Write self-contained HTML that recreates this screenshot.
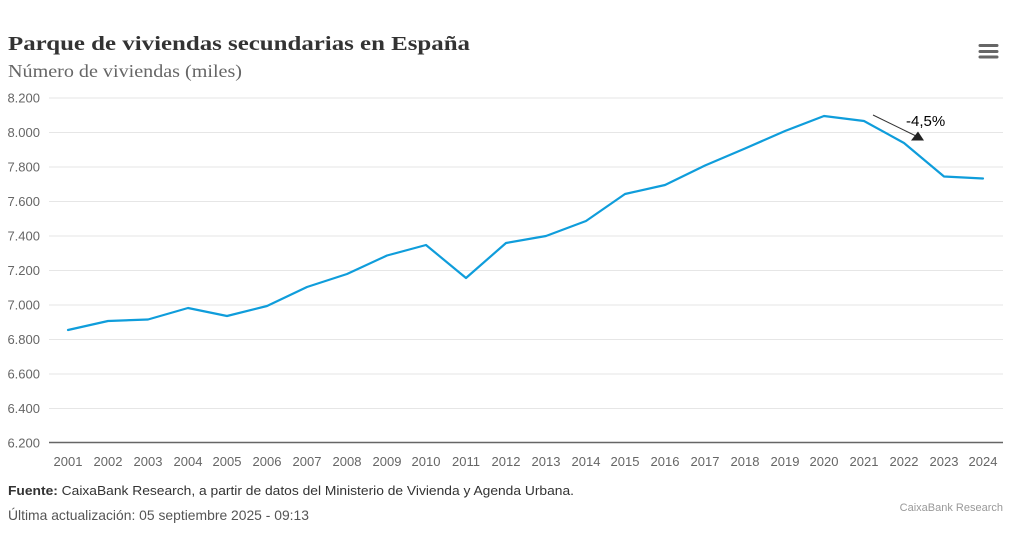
<!DOCTYPE html>
<html>
<head>
<meta charset="utf-8">
<style>
  html,body{margin:0;padding:0;background:#fff;}
  body{width:1024px;height:534px;overflow:hidden;}
  svg{display:block;}
</style>
</head>
<body>
<svg width="1024" height="534" viewBox="0 0 1024 534" xmlns="http://www.w3.org/2000/svg">
  <rect width="1024" height="534" fill="#fff"/>
  <!-- Title -->
  <text x="8" y="50" font-family="Liberation Serif, serif" font-weight="bold" font-size="20" fill="#333" textLength="462" lengthAdjust="spacingAndGlyphs">Parque de viviendas secundarias en España</text>
  <text x="8" y="77" font-family="Liberation Serif, serif" font-size="18" fill="#666" textLength="234" lengthAdjust="spacingAndGlyphs">Número de viviendas (miles)</text>

  <!-- Hamburger -->
  <g stroke="#666" stroke-width="3" stroke-linecap="round">
    <line x1="980" y1="45.5" x2="997" y2="45.5"/>
    <line x1="980" y1="51.5" x2="997" y2="51.5"/>
    <line x1="980" y1="57" x2="997" y2="57"/>
  </g>

  <!-- Gridlines -->
  <g stroke="#e6e6e6" stroke-width="1">
    <line x1="49" y1="98" x2="1003" y2="98"/>
    <line x1="49" y1="132.5" x2="1003" y2="132.5"/>
    <line x1="49" y1="167" x2="1003" y2="167"/>
    <line x1="49" y1="201.5" x2="1003" y2="201.5"/>
    <line x1="49" y1="236" x2="1003" y2="236"/>
    <line x1="49" y1="270.5" x2="1003" y2="270.5"/>
    <line x1="49" y1="305" x2="1003" y2="305"/>
    <line x1="49" y1="339.5" x2="1003" y2="339.5"/>
    <line x1="49" y1="374" x2="1003" y2="374"/>
    <line x1="49" y1="408.5" x2="1003" y2="408.5"/>
  </g>
  <line x1="49" y1="442.5" x2="1003" y2="442.5" stroke="#666" stroke-width="1.5"/>

  <!-- Y labels -->
  <g font-family="Liberation Sans, sans-serif" font-size="13" fill="#666" text-anchor="end">
    <text x="40" y="102.5">8.200</text>
    <text x="40" y="137">8.000</text>
    <text x="40" y="171.5">7.800</text>
    <text x="40" y="206">7.600</text>
    <text x="40" y="240.5">7.400</text>
    <text x="40" y="275">7.200</text>
    <text x="40" y="309.5">7.000</text>
    <text x="40" y="344">6.800</text>
    <text x="40" y="378.5">6.600</text>
    <text x="40" y="413">6.400</text>
    <text x="40" y="447.5">6.200</text>
  </g>

  <!-- X labels -->
  <g font-family="Liberation Sans, sans-serif" font-size="13" fill="#666" text-anchor="middle">
    <text x="68" y="466">2001</text>
    <text x="108" y="466">2002</text>
    <text x="148" y="466">2003</text>
    <text x="188" y="466">2004</text>
    <text x="227" y="466">2005</text>
    <text x="267" y="466">2006</text>
    <text x="307" y="466">2007</text>
    <text x="347" y="466">2008</text>
    <text x="387" y="466">2009</text>
    <text x="426" y="466">2010</text>
    <text x="466" y="466">2011</text>
    <text x="506" y="466">2012</text>
    <text x="546" y="466">2013</text>
    <text x="586" y="466">2014</text>
    <text x="625" y="466">2015</text>
    <text x="665" y="466">2016</text>
    <text x="705" y="466">2017</text>
    <text x="745" y="466">2018</text>
    <text x="785" y="466">2019</text>
    <text x="824" y="466">2020</text>
    <text x="864" y="466">2021</text>
    <text x="904" y="466">2022</text>
    <text x="944" y="466">2023</text>
    <text x="983" y="466">2024</text>
  </g>

  <!-- Series -->
  <polyline fill="none" stroke="#0f9ddb" stroke-width="2.2" stroke-linejoin="round" stroke-linecap="round"
    points="68,330 108,321 148,319.5 188,308 227,316 267,306 307,287 347,274 387,255.5 426,245 466,278 506,243 546,236 586,221 625,194 665,185 705,165.5 745,148.5 785,131 824,116 864,121 904,143 944,176.5 983,178.5"/>

  <!-- Annotation arrow -->
  <line x1="873" y1="115" x2="916" y2="136" stroke="#333" stroke-width="1"/>
  <polygon points="911,140.5 924,140.5 918,131.5" fill="#222"/>
  <text x="906" y="126" font-family="Liberation Sans, sans-serif" font-size="15" fill="#000">-4,5%</text>

  <!-- Footer -->
  <text x="8" y="495" font-family="Liberation Sans, sans-serif" font-size="13" fill="#333" textLength="566" lengthAdjust="spacingAndGlyphs"><tspan font-weight="bold">Fuente:</tspan> CaixaBank Research, a partir de datos del Ministerio de Vivienda y Agenda Urbana.</text>
  <text x="8" y="520" font-family="Liberation Sans, sans-serif" font-size="14" fill="#555" textLength="301" lengthAdjust="spacingAndGlyphs">Última actualización: 05 septiembre 2025 - 09:13</text>
  <text x="1003" y="511" font-family="Liberation Sans, sans-serif" font-size="11" fill="#999" text-anchor="end">CaixaBank Research</text>
</svg>
</body>
</html>
